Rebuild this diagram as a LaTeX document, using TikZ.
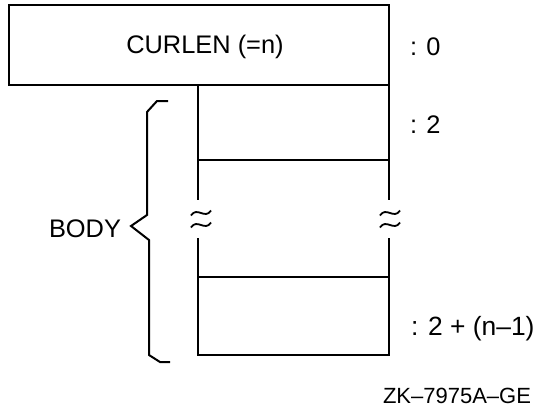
\documentclass[tikz,border=0pt]{standalone}
\usepackage{fontspec}
\setmainfont{Liberation Sans}
\begin{document}
\begin{tikzpicture}[x=0.5pt,y=-0.5pt, line width=1pt,
  lbl/.style={font=\fontsize{12.7}{15}\selectfont, inner sep=0pt},
  biglbl/.style={font=\fontsize{13.2}{15}\selectfont, inner sep=0pt},
  small/.style={font=\fontsize{11}{13}\selectfont, inner sep=0pt},
  wave/.style={line width=0.9pt}]
\useasboundingbox (0,0) rectangle (536,408);
% header box
\node[draw, minimum width=190.25pt, minimum height=40pt, inner sep=0pt] (hdr) at (198.75,45) {};
\node[lbl, anchor=base] (curlen) at (205,53) {CURLEN (=n)};
% column coordinates
\coordinate (L0) at (198,85);  \coordinate (R0) at (389,85);
\coordinate (L1) at (198,160); \coordinate (R1) at (389,160);
\coordinate (Lg1) at (198,200); \coordinate (Rg1) at (389,200);
\coordinate (Lg2) at (198,238); \coordinate (Rg2) at (389,238);
\coordinate (L2) at (198,277); \coordinate (R2) at (389,277);
\coordinate (L3) at (198,355); \coordinate (R3) at (389,355);
\draw (L0) -- (Lg1);
\draw (R0) -- (Rg1);
\draw (L1) -- (R1);
\draw (L2) -- (R2);
\draw (Lg2) -- (L3) -- (R3) -- (Rg2);
% break marks
\foreach \x/\y in {201/213, 201/225, 390/213, 390/225}
  \draw[wave] (\x-10,\y+2.5) .. controls (\x-4,\y-7) and (\x+4,\y+7) .. (\x+10,\y-2.5);
% brace
\coordinate (bt) at (168,101);
\coordinate (bp) at (131,226);
\coordinate (bb) at (170,362);
\draw (bt) -- (157,101) -- (147,112) -- (147,215) -- (bp) -- (149,240) -- (149,355) -- (160,362) -- (bb);
% labels
\node[lbl, anchor=base east] (body) at (122,237) {BODY};
\node[lbl, anchor=base west] (off0) at (409,55) {: 0};
\node[lbl, anchor=base west] (off2) at (409,133) {: 2};
\node[biglbl, anchor=base west] (offn) at (410,335) {: 2 + (n–1)};
\node[small, anchor=base east] (zk) at (532,403) {ZK–7975A–GE};
\end{tikzpicture}
\end{document}
